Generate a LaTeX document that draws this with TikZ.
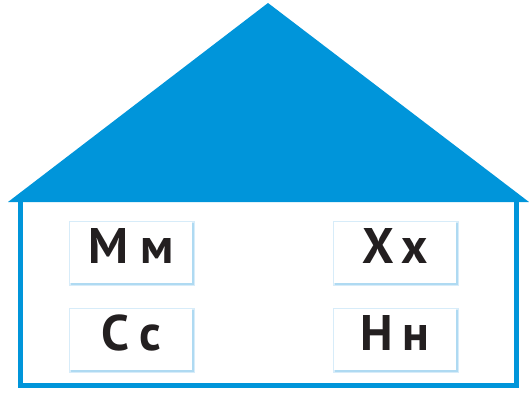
\documentclass[tikz,border=0pt]{standalone}
\usepackage{fontspec}
\setmainfont{PT Sans}
\begin{document}
\begin{tikzpicture}[x=1pt,y=-1pt,
  roofblue/.style={fill={rgb,255:red,0;green,149;blue,218}},
  wall/.style={draw={rgb,255:red,0;green,149;blue,218},line width=5pt},
  card/.style={fill=white,minimum width=122pt,minimum height=61pt,inner sep=0pt,
    text height=32pt,text depth=11pt,
    font=\fontsize{50}{50}\selectfont\bfseries,text={rgb,255:red,35;green,31;blue,32}},
  glow/.style={fill={rgb,255:red,215;green,236;blue,249},minimum width=126pt,minimum height=65pt,inner sep=0pt},
  shade/.style={fill={rgb,255:red,175;green,218;blue,242},minimum width=123pt,minimum height=62pt,inner sep=0pt}
]
\useasboundingbox (0,0) rectangle (529,393);
\coordinate (apex) at (268,3);
\coordinate (rl) at (8,202);
\coordinate (rr) at (529,202);
\fill[roofblue] (rl) -- (apex) -- (rr) -- cycle;
\coordinate (wtl) at (20.5,202);
\coordinate (wbl) at (20.5,385.5);
\coordinate (wbr) at (516,385.5);
\coordinate (wtr) at (516,202);
\draw[wall] (wtl) -- (wbl) -- (wbr) -- (wtr);
% glows and shadows
\node[glow] (g1) at (132,253.5) {};
\node[glow] (g2) at (132,340.5) {};
\node[glow] (g3) at (396,253.5) {};
\node[glow] (g4) at (396,340.5) {};
\node[shade] (s1) at (132.5,254) {};
\node[shade] (s2) at (132.5,341) {};
\node[shade] (s3) at (396.5,254) {};
\node[shade] (s4) at (396.5,341) {};
\node[card] (m) at (131,252.5) {М\hspace{12pt}м};
\node[card] (c) at (131,339.5) {С\hspace{10pt}с};
\node[card] (x) at (395,252.5) {Х\hspace{8pt}х};
\node[card] (n) at (395,339.5) {Н\hspace{10pt}н};
\end{tikzpicture}
\end{document}
